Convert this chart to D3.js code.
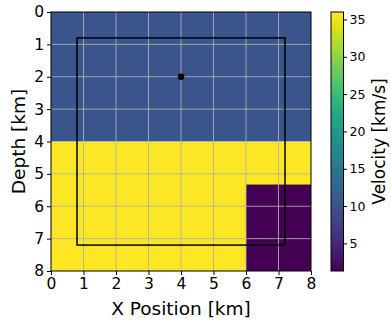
<!DOCTYPE html>
<html>
<head>
<meta charset="utf-8">
<script src="https://cdn.jsdelivr.net/npm/d3@7"></script>
<style>
  body { margin: 0; background: #fff; }
  text { font-family: "DejaVu Sans", sans-serif; fill: #000; }
</style>
</head>
<body>
<div id="chart"></div>
<script>
// velocity model blocks (km, km/s)
let block_x0 = [0, 0, 6];
let block_x1 = [8, 8, 8];
let block_y0 = [0, 4, 5.33];
let block_y1 = [4, 8, 8];
let block_vel = [10.5, 36, 1.3];

let vel_min = 1.3;
let vel_max = 36;

let ticks = [0, 1, 2, 3, 4, 5, 6, 7, 8];
let cbar_ticks = [5, 10, 15, 20, 25, 30, 35];

// box and source
let box_x = [0.8, 7.2];
let box_y = [0.8, 7.2];
let source = [4, 2];

let chart_width = 391;
let chart_height = 325;

let svg = d3.select("#chart").append("svg")
  .attr("width", chart_width)
  .attr("height", chart_height);

let x_scale = d3.scaleLinear().domain([0, 8]).range([51, 311]);
let y_scale = d3.scaleLinear().domain([0, 8]).range([12, 271]);
let color = d3.scaleSequential(d3.interpolateViridis).domain([vel_min, vel_max]);

/* image blocks */
svg.selectAll("rect.block")
  .data(block_vel)
  .enter()
  .append("rect")
  .attr("class", "block")
  .attr("x", (d, i) => x_scale(block_x0[i]))
  .attr("y", (d, i) => y_scale(block_y0[i]))
  .attr("width", (d, i) => x_scale(block_x1[i]) - x_scale(block_x0[i]))
  .attr("height", (d, i) => y_scale(block_y1[i]) - y_scale(block_y0[i]))
  .attr("fill", d => color(d));

/* grid */
let grid = svg.append("g");
grid.selectAll("line.gx")
  .data(ticks.slice(1, -1))
  .enter()
  .append("line")
  .attr("x1", d => x_scale(d)).attr("x2", d => x_scale(d))
  .attr("y1", y_scale(0)).attr("y2", y_scale(8))
  .attr("stroke", "#b0b0b0").attr("stroke-width", 1).attr("opacity", 0.85);
grid.selectAll("line.gy")
  .data(ticks.slice(1, -1))
  .enter()
  .append("line")
  .attr("y1", d => y_scale(d)).attr("y2", d => y_scale(d))
  .attr("x1", x_scale(0)).attr("x2", x_scale(8))
  .attr("stroke", "#b0b0b0").attr("stroke-width", 1).attr("opacity", 0.85);

/* box + source */
svg.append("rect")
  .attr("x", x_scale(box_x[0]))
  .attr("y", y_scale(box_y[0]))
  .attr("width", x_scale(box_x[1]) - x_scale(box_x[0]))
  .attr("height", y_scale(box_y[1]) - y_scale(box_y[0]))
  .attr("fill", "none")
  .attr("stroke", "#000")
  .attr("stroke-width", 1.5);

svg.append("circle")
  .attr("cx", x_scale(source[0]))
  .attr("cy", y_scale(source[1]))
  .attr("r", 3.3)
  .attr("fill", "#000");

/* axes */
let x_axis = d3.axisBottom(x_scale).tickValues(ticks).tickSize(4).tickPadding(3);
let y_axis = d3.axisLeft(y_scale).tickValues(ticks).tickSize(4).tickPadding(3);

let gx = svg.append("g").attr("transform", "translate(0," + y_scale(8) + ")").call(x_axis);
let gy = svg.append("g").attr("transform", "translate(" + x_scale(0) + ",0)").call(y_axis);
[gx, gy].forEach(g => {
  g.select(".domain").remove();
  g.selectAll("line").attr("stroke", "#000").attr("stroke-width", 1);
  g.selectAll("text").style("font-size", "15.5px").style("font-family", "DejaVu Sans");
});

// frame
svg.append("rect")
  .attr("x", x_scale(0)).attr("y", y_scale(0))
  .attr("width", x_scale(8) - x_scale(0))
  .attr("height", y_scale(8) - y_scale(0))
  .attr("fill", "none").attr("stroke", "#000").attr("stroke-width", 1);

svg.append("text")
  .attr("x", (x_scale(0) + x_scale(8)) / 2)
  .attr("y", 315)
  .attr("text-anchor", "middle")
  .style("font-size", "18.5px")
  .text("X Position [km]");

svg.append("text")
  .attr("transform", "translate(25," + (y_scale(4)) + ") rotate(-90)")
  .attr("text-anchor", "middle")
  .style("font-size", "18.5px")
  .text("Depth [km]");

/* colorbar */
let cb_x = 331, cb_w = 12.5;
let cb_scale = d3.scaleLinear().domain([vel_min, vel_max]).range([271, 12]);

let grad = svg.append("defs").append("linearGradient")
  .attr("id", "vgrad")
  .attr("x1", "0").attr("y1", "1").attr("x2", "0").attr("y2", "0");
grad.selectAll("stop")
  .data(d3.range(0, 1.0001, 0.05))
  .enter()
  .append("stop")
  .attr("offset", d => d)
  .attr("stop-color", d => d3.interpolateViridis(d));

svg.append("rect")
  .attr("x", cb_x).attr("y", cb_scale(vel_max))
  .attr("width", cb_w).attr("height", cb_scale(vel_min) - cb_scale(vel_max))
  .attr("fill", "url(#vgrad)")
  .attr("stroke", "#000").attr("stroke-width", 1);

let cb_axis = d3.axisRight(cb_scale).tickValues(cbar_ticks).tickSize(3.5).tickPadding(2.5);
let gc = svg.append("g").attr("transform", "translate(" + (cb_x + cb_w) + ",0)").call(cb_axis);
gc.select(".domain").remove();
gc.selectAll("line").attr("stroke", "#000");
gc.selectAll("text").style("font-size", "12.5px").style("font-family", "DejaVu Sans");

svg.append("text")
  .attr("transform", "translate(385," + cb_scale((vel_min + vel_max) / 2) + ") rotate(-90)")
  .attr("text-anchor", "middle")
  .style("font-size", "17px")
  .text("Velocity [km/s]");
</script>
</body>
</html>
